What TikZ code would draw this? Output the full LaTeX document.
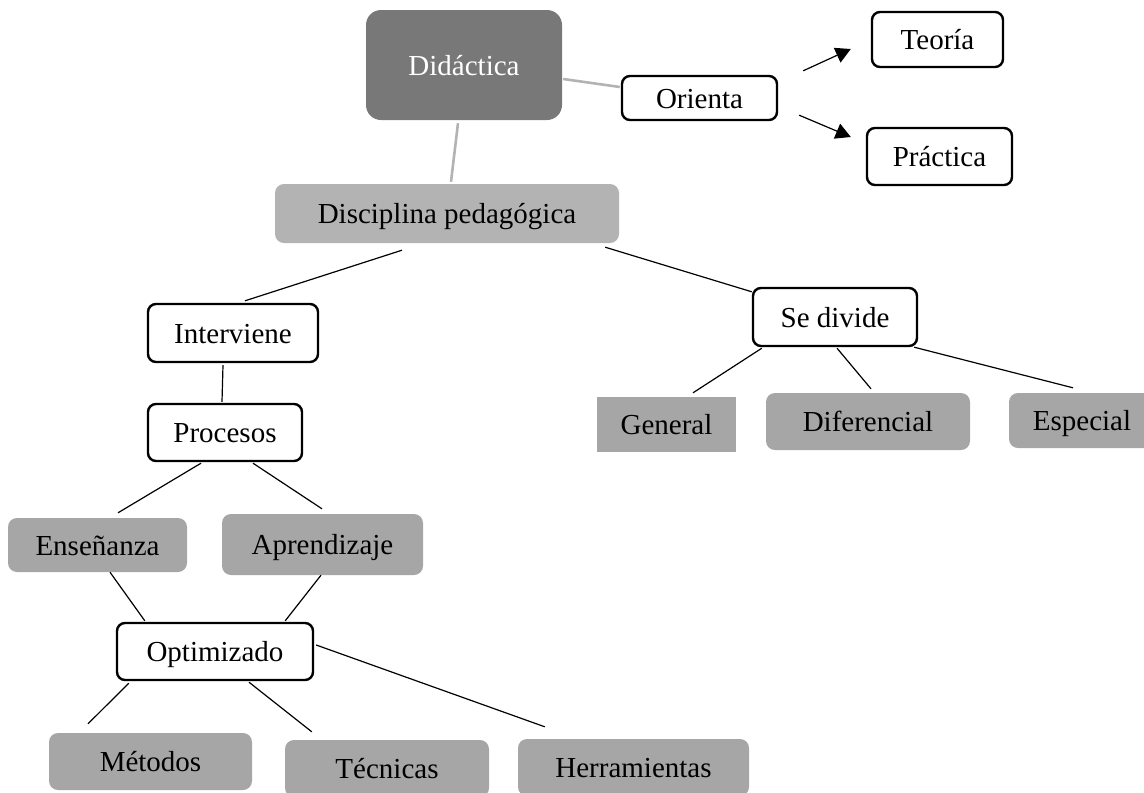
\documentclass[tikz,border=0pt]{standalone}
\usepackage{fontspec}
\setmainfont{Liberation Serif}
\usepackage{tikz}
\usetikzlibrary{arrows.meta,positioning}

\definecolor{darkbox}{HTML}{787878}
\definecolor{lightbox}{HTML}{B3B3B3}
\definecolor{greybox}{HTML}{A6A6A6}
\definecolor{greyline}{HTML}{B3B3B3}

\begin{document}
\begin{tikzpicture}[
  x=1pt, y=-1pt,
  every node/.style={inner sep=0pt, text height=24pt, text depth=4pt, font=\fontsize{29}{34}\selectfont},
  root/.style={rectangle, rounded corners=15pt, fill=darkbox, text=white},
  discipline/.style={rectangle, rounded corners=9pt, fill=lightbox},
  concept/.style={rectangle, rounded corners=9pt, fill=greybox},
  verb/.style={rectangle, rounded corners=8pt, draw=black, line width=2.4pt, fill=white},
  link/.style={line width=1.2pt, black},
  trunk/.style={line width=2.6pt, greyline},
  >={Triangle[length=15pt,width=16pt]}
]
  \useasboundingbox (0,0) rectangle (1144,793);

  \node[root, minimum width=196pt, minimum height=110pt] (did) at (464, 65) {Didáctica};
  \node[verb, minimum width=155pt, minimum height=44pt] (ori) at (699.5, 98) {Orienta};
  \node[verb, minimum width=131pt, minimum height=55pt] (teo) at (937.5, 39.5) {Teoría};
  \node[verb, minimum width=145pt, minimum height=57pt] (pra) at (939.5, 156.5) {Práctica};
  \node[discipline, minimum width=344pt, minimum height=59pt] (dis) at (447, 213.5) {Disciplina pedagógica};

  \node[verb, minimum width=170pt, minimum height=58pt] (int) at (233, 333) {Interviene};
  \node[verb, minimum width=154pt, minimum height=57pt] (pro) at (225, 432.5) {Procesos};
  \node[concept, minimum width=179pt, minimum height=54pt] (ens) at (97.5, 545) {Enseñanza};
  \node[concept, minimum width=201pt, minimum height=61pt] (apr) at (322.5, 544.5) {Aprendizaje};
  \node[verb, minimum width=196pt, minimum height=57pt] (opt) at (215, 651.5) {Optimizado};
  \node[concept, minimum width=203pt, minimum height=57pt] (met) at (150.5, 761.5) {Métodos};
  \node[concept, minimum width=204pt, minimum height=57pt] (tec) at (387, 768.5) {Técnicas};
  \node[concept, minimum width=231pt, minimum height=57pt] (her) at (633.5, 767.5) {Herramientas};

  \node[verb, minimum width=164pt, minimum height=58pt] (sed) at (835, 317) {Se divide};
  \node[concept, rounded corners=0pt, minimum width=139pt, minimum height=55pt] (gen) at (666.5, 424.5) {General};
  \node[concept, minimum width=204pt, minimum height=57pt] (dif) at (868, 421.5) {Diferencial};
  \node[concept, minimum width=146pt, minimum height=55pt] (esp) at (1082, 420.5) {Especial};

  % top of the map
  \draw[trunk] ([shift={(1,14)}]did.east) -- ([shift={(-1,-11)}]ori.west);
  \draw[trunk] ([shift={(-6,3)}]did.south) -- ([shift={(4,-2)}]dis.north);
  \draw[->, link] ([shift={(25,-4)}]ori.north east) -- ([shift={(-20,9.5)}]teo.west);
  \draw[->, link] ([shift={(21,-6)}]ori.south east) -- ([shift={(-15,-19.5)}]pra.west);

  % left branch
  \draw[link] ([shift={(-45,7)}]dis.south) -- ([shift={(12,-2)}]int.north);
  \draw[link] ([shift={(-10,2)}]int.south) -- ([shift={(-3,-1)}]pro.north);
  \draw[link] ([shift={(-24,1)}]pro.south) -- ([shift={(20.5,-5)}]ens.north);
  \draw[link] ([shift={(28,1)}]pro.south) -- ([shift={(-0.5,-5)}]apr.north);
  \draw[link] ([shift={(12.5,0)}]ens.south) -- ([shift={(29,-1)}]opt.north west);
  \draw[link] ([shift={(-1.5,0)}]apr.south) -- ([shift={(-29,-1)}]opt.north east);
  \draw[link] ([shift={(13,2)}]opt.south west) -- ([shift={(-62.5,-9)}]met.north);
  \draw[link] ([shift={(34,1)}]opt.south) -- ([shift={(27,-8)}]tec.north west);
  \draw[link] ([shift={(2,-6.5)}]opt.east) -- ([shift={(27,-12)}]her.north west);

  % right branch
  \draw[link] ([shift={(-14,4)}]dis.south east) -- ([shift={(0,5)}]sed.north west);
  \draw[link] ([shift={(10,1)}]sed.south west) -- ([shift={(26.5,-4)}]gen.north);
  \draw[link] ([shift={(2,1)}]sed.south) -- ([shift={(3,-4)}]dif.north);
  \draw[link] ([shift={(-4,0)}]sed.south east) -- ([shift={(-9,-5)}]esp.north);
\end{tikzpicture}
\end{document}
